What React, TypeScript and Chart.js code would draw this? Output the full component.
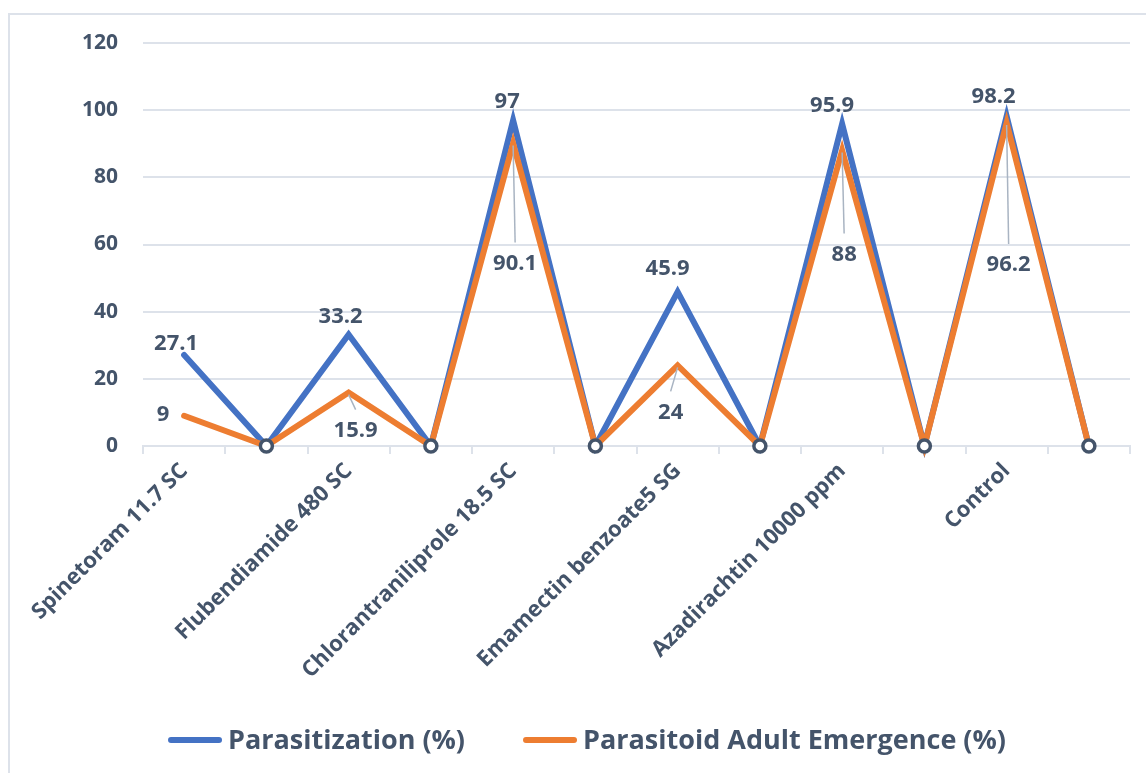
import React, { useEffect, useRef } from "react";
import { Chart, registerables } from "chart.js";

Chart.register(...registerables);

const categories = [
  "Spinetoram 11.7 SC", "",
  "Flubendiamide 480 SC", "",
  "Chlorantraniliprole 18.5 SC", "",
  "Emamectin benzoate5 SG", "",
  "Azadirachtin 10000 ppm", "",
  "Control", "",
];
const parasitization = [27.1, 0, 33.2, 0, 97, 0, 45.9, 0, 95.9, 0, 98.2, 0];
const emergence = [9, 0, 15.9, 0, 90.1, 0, 24, 0, 88, 0, 96.2, 0];
const seriesNames = ["Parasitization (%)", "Parasitoid Adult Emergence (%)"];
const yTickValues = [0, 20, 40, 60, 80, 100, 120];

const TEXT = "#44546A";
const GRID = "#DDE2EA";
const BLUE = "#4472C4";
const ORANGE = "#ED7D31";
const FONT = '"Open Sans", "DejaVu Sans", sans-serif';

// label offsets (px) relative to each point: [dx, dy]
const blueLabelOffsets: Array<[number, number] | null> = [
  [-8, -11], null, [-8, -18], null, [-6, -19], null, [-10, -23], null, [-10, -18], null, [-13, -19], null,
];
const orangeLabelOffsets: Array<[number, number] | null> = [
  [-21, -1], null, [7, 38], null, [2, 120], null, [-7, 47], null, [2, 104], null, [2, 142], null,
];

const labelPlugin = {
  id: "pointLabels",
  afterDatasetsDraw(chart: any, _args: any, opts: any) {
    const ctx = chart.ctx;
    ctx.save();
    ctx.font = `700 ${opts.fontSize}px ${FONT}`;
    ctx.textAlign = "center";
    ctx.textBaseline = "middle";
    opts.series.forEach((s: any) => {
      const meta = chart.getDatasetMeta(s.datasetIndex);
      const data = chart.data.datasets[s.datasetIndex].data;
      meta.data.forEach((pt: any, i: number) => {
        const off = s.offsets[i];
        if (!off) return;
        const v = data[i];
        const lx = pt.x + off[0];
        const ly = pt.y + off[1];
        if (s.leader && off[1] > 25) {
          ctx.strokeStyle = opts.leaderColor;
          ctx.lineWidth = 1.5;
          ctx.beginPath();
          ctx.moveTo(pt.x, pt.y + 2);
          ctx.lineTo(lx, ly - 21);
          ctx.stroke();
        }
        ctx.fillStyle = TEXT;
        ctx.fillText(String(v), lx, ly);
      });
    });
    ctx.restore();
  },
};

const legendPlugin = {
  id: "customLegend",
  afterDraw(chart: any, _args: any, opts: any) {
    const ctx = chart.ctx;
    ctx.save();
    ctx.font = `700 ${opts.fontSize}px ${FONT}`;
    ctx.textBaseline = "middle";
    ctx.textAlign = "left";
    const items = chart.data.datasets.map((ds: any) => ({
      text: ds.label,
      color: ds.borderColor,
      w: ctx.measureText(ds.label).width,
    }));
    const lineLen = 54;
    const gapText = 6;
    const gapItem = 58;
    const total =
      items.reduce((a: number, it: any) => a + lineLen + gapText + it.w, 0) +
      gapItem * (items.length - 1);
    let x = opts.centerX - total / 2;
    const y = opts.y;
    items.forEach((it: any) => {
      ctx.strokeStyle = it.color;
      ctx.lineWidth = 6;
      ctx.lineCap = "round";
      ctx.beginPath();
      ctx.moveTo(x + 3, y);
      ctx.lineTo(x + lineLen - 3, y);
      ctx.stroke();
      x += lineLen + gapText;
      ctx.fillStyle = TEXT;
      ctx.fillText(it.text, x, y + 1);
      x += it.w + gapItem;
    });
    ctx.restore();
  },
};

export default function App() {
  const ref = useRef<HTMLCanvasElement | null>(null);

  useEffect(() => {
    if (!ref.current) return;
    const chart = new Chart(ref.current, {
      type: "line",
      data: {
        labels: categories,
        datasets: [
          {
            label: seriesNames[0],
            data: parasitization,
            borderColor: BLUE,
            backgroundColor: BLUE,
            borderWidth: 6,
            borderCapStyle: "round",
            tension: 0,
            pointRadius: 0,
            clip: false,
            order: 1,
          },
          {
            label: seriesNames[1],
            data: emergence,
            borderColor: ORANGE,
            backgroundColor: ORANGE,
            borderWidth: 6,
            borderCapStyle: "round",
            tension: 0,
            pointRadius: (c: any) => (c.raw === 0 ? 6 : 0),
            pointBorderColor: TEXT,
            pointBackgroundColor: "#FFFFFF",
            pointBorderWidth: 3.5,
            clip: false,
            order: 0,
          },
        ],
      },
      options: {
        responsive: true,
        maintainAspectRatio: false,
        animation: false,
        layout: { padding: { top: 28, right: 16, left: 0, bottom: 56 } },
        plugins: {
          legend: { display: false },
          tooltip: { enabled: false },
          pointLabels: {
            fontSize: 22,
            leaderColor: "#A9B4C2",
            series: [
              { datasetIndex: 0, offsets: blueLabelOffsets, leader: false },
              { datasetIndex: 1, offsets: orangeLabelOffsets, leader: true },
            ],
          },
          customLegend: { fontSize: 27, centerX: 577, y: 725 },
        } as any,
        scales: {
          x: {
            offset: true,
            grid: {
              offset: true,
              drawOnChartArea: false,
              drawTicks: true,
              tickLength: 8,
              color: GRID,
              lineWidth: 2,
            },
            border: { display: true, color: GRID, width: 2 },
            ticks: {
              autoSkip: false,
              minRotation: 45,
              maxRotation: 45,
              padding: 4,
              color: TEXT,
              font: { family: FONT, size: 22, weight: "700" },
            },
            afterFit: (s: any) => {
              s.height = 271;
            },
          },
          y: {
            min: 0,
            max: 120,
            afterBuildTicks: (s: any) => {
              s.ticks = yTickValues.map((v) => ({ value: v }));
            },
            grid: { color: GRID, lineWidth: 2, drawTicks: false },
            border: { display: false },
            ticks: {
              padding: 25,
              color: TEXT,
              font: { family: FONT, size: 21, weight: "700" },
            },
            afterFit: (s: any) => {
              s.width = 133;
              s.paddingTop = 0;
              s.paddingBottom = 0;
            },
          },
        },
      },
      plugins: [labelPlugin, legendPlugin],
    } as any);
    return () => chart.destroy();
  }, []);

  return (
    <div
      style={{
        position: "fixed",
        left: 8,
        top: 13,
        right: 0,
        bottom: 0,
        borderTop: `2px solid ${GRID}`,
        borderLeft: `2px solid ${GRID}`,
        boxSizing: "border-box",
        background: "#fff",
      }}
    >
      <div style={{ position: "relative", width: "100%", height: "100%" }}>
        <canvas ref={ref} />
      </div>
    </div>
  );
}
